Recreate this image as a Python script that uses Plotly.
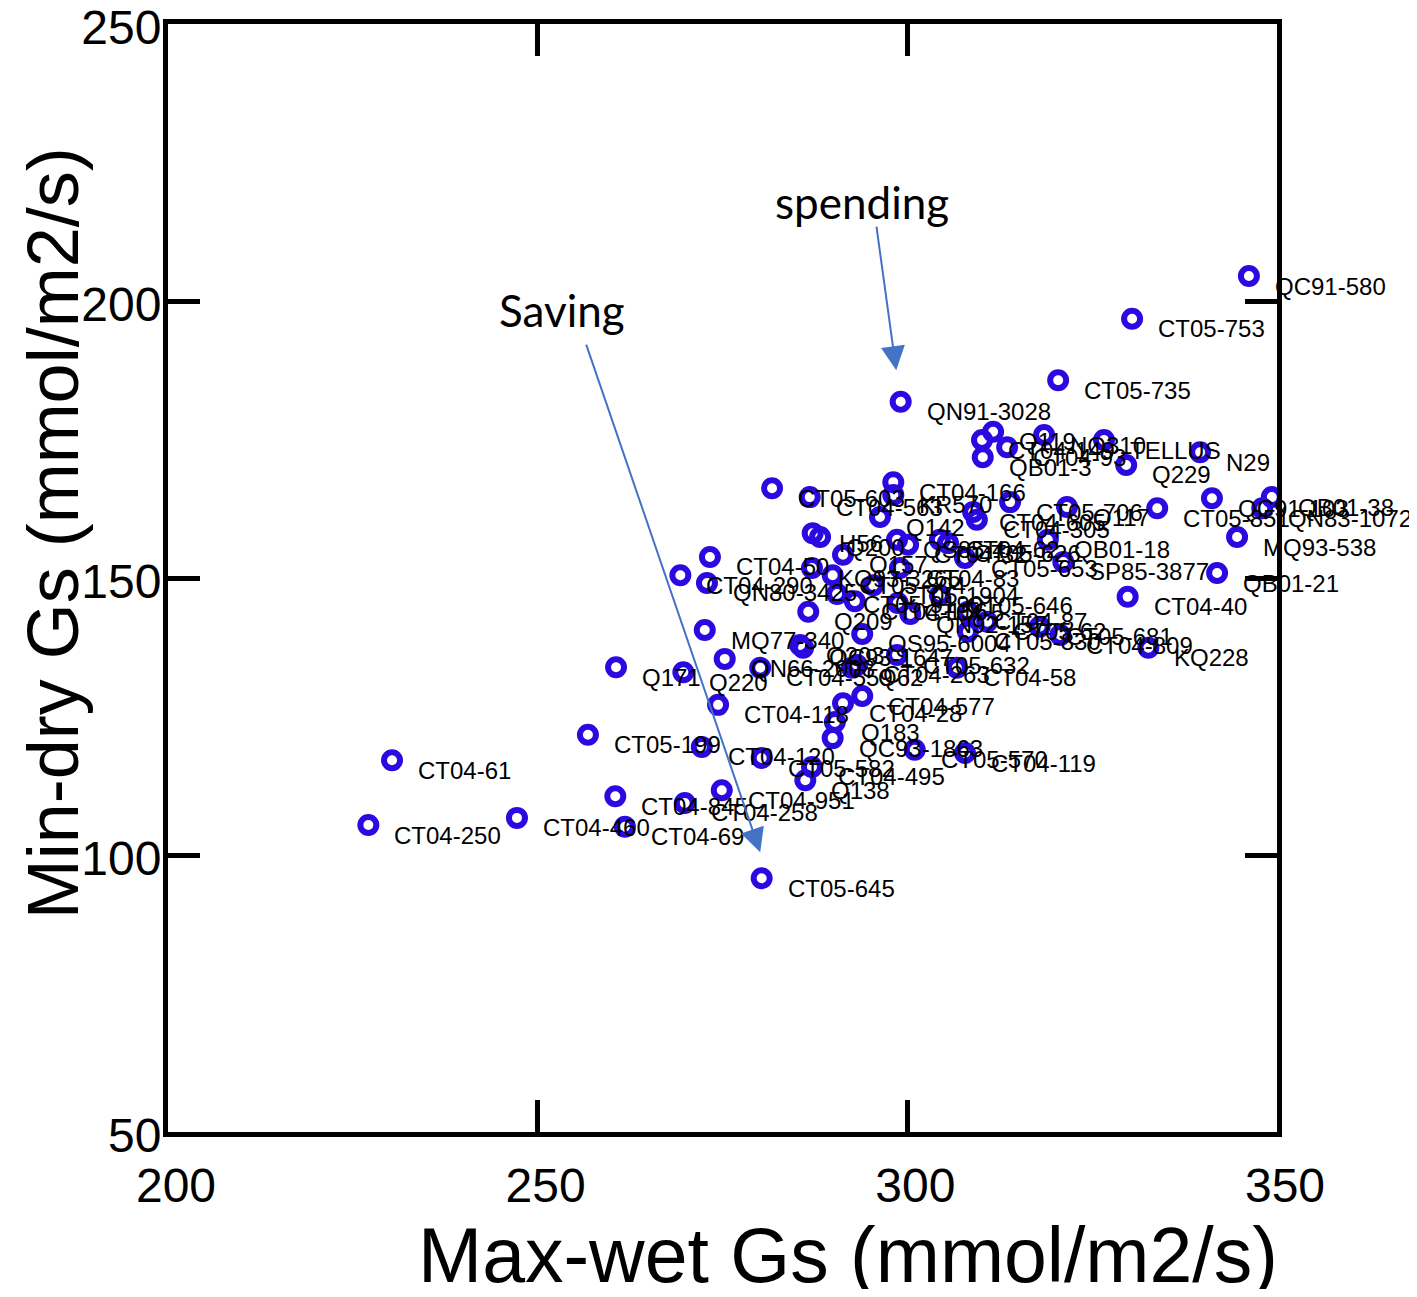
import plotly.graph_objects as go

labels = [
    "QC91-580", "CT05-753", "CT05-735", "QN91-3028", "CT04-149", "Q119", "CT04-93", "QB01-3",
    "NO310", "TELLUS", "Q229", "N29", "QC91-103", "QN83-1072", "QB01-38", "CT05-851",
    "MQ93-538", "QB01-21", "CT04-40", "Q117", "CT05-706", "QB01-18", "SP85-3877", "CT04-605",
    "CT04-305", "CT05-603", "CT04-563", "CT04-166", "KR570", "Q142", "H56", "Q200",
    "Q157", "QS85-4", "CT04-32", "CT04-62", "CT05-626", "CT05-653", "CT04-50", "CT04-290",
    "QN80-3425", "KQ93-3265", "CT05-304", "CT05-1904", "CT04-156", "CT04-5", "QN92-157", "CT04-83",
    "CT05-646", "CT04-87", "CT05-62", "CT05-830", "CT05-681", "CT04-809", "KQ228", "QS95-6004",
    "CT05-632", "CT04-58", "Q209", "MQ77-340", "Q203", "QC93-1647", "CT04-263", "Q62",
    "Q171", "Q220", "QN66-2008", "CT04-559", "CT04-118", "CT04-28", "CT04-577", "Q183",
    "QC93-1863", "CT05-199", "CT04-120", "CT05-582", "CT04-495", "Q138", "CT05-570", "CT04-119",
    "CT04-845", "CT04-258", "CT04-951", "CT04-69", "CT05-645", "CT04-460", "CT04-61", "CT04-250",
    "CT05-9190",
]

max_wet = [
    346.2, 330.4, 320.4, 299.1, 310.1, 311.6, 313.5, 310.2,
    318.5, 326.6, 329.6, 339.6, 341.2, 348.0, 349.3, 333.8,
    344.6, 341.9, 329.8, 321.6, 313.9, 319.0, 321.1, 308.9,
    309.4, 281.7, 286.8, 298.1, 298.1, 296.3, 287.2, 288.2,
    291.3, 298.6, 300.1, 304.4, 305.5, 307.8, 273.3, 269.3,
    272.9, 287.1, 289.9, 295.4, 292.9, 298.7, 300.4, 299.0,
    304.4, 308.2, 310.8, 308.2, 317.9, 320.7, 332.6, 293.9,
    298.6, 306.7, 286.6, 272.6, 285.5, 285.9, 293.2, 292.5,
    260.6, 269.7, 275.3, 280.1, 274.4, 291.3, 293.9, 290.2,
    289.9, 256.8, 272.2, 280.3, 287.1, 286.2, 301.0, 307.8,
    260.5, 269.9, 274.9, 261.8, 280.3, 247.2, 230.3, 227.1,
    290.5,
]

min_dry = [
    204.5, 196.8, 185.7, 181.8, 174.9, 176.4, 173.6, 171.8,
    175.8, 174.9, 170.4, 172.7, 164.4, 162.6, 164.6, 162.6,
    157.4, 150.9, 146.6, 162.8, 163.7, 156.9, 152.9, 161.9,
    160.5, 166.2, 164.6, 167.3, 165.0, 161.0, 158.1, 157.4,
    154.2, 156.9, 156.0, 156.9, 156.3, 153.6, 153.8, 150.5,
    149.1, 151.8, 150.5, 148.7, 145.8, 145.5, 143.5, 151.8,
    146.9, 143.9, 142.1, 140.3, 141.2, 139.7, 137.4, 139.9,
    136.1, 133.8, 143.9, 140.6, 137.9, 137.4, 134.3, 133.8,
    133.9, 133.0, 135.4, 133.8, 127.1, 127.4, 128.7, 124.0,
    121.1, 121.7, 119.5, 117.5, 115.9, 113.5, 119.0, 118.4,
    110.6, 109.4, 111.7, 105.1, 95.8, 106.7, 117.1, 105.4,
    147.1,
]

x_ticks = [200, 250, 300, 350]
y_ticks = [50, 100, 150, 200, 250]

MARK = "#2a0ae0"
ARROW = "#4472C4"
FONT = "Liberation Sans, Arial, sans-serif"

fig = go.Figure()
fig.add_trace(go.Scatter(
    x=max_wet, y=min_dry, mode="markers",
    marker=dict(symbol="circle-open", size=16, color=MARK, line=dict(width=6, color=MARK)),
    hoverinfo="text", text=labels, showlegend=False,
))

annotations = []
for lab, xv, yv in zip(labels, max_wet, min_dry):
    annotations.append(dict(
        x=xv, y=yv, xref="x", yref="y", text=lab, showarrow=False,
        xanchor="left", yanchor="middle", xshift=24, yshift=-10,
        font=dict(family=FONT, size=24, color="black"),
    ))

# arrows
annotations.append(dict(x=298.5, y=187.5, ax=295.8, ay=213.7, xref="x", yref="y",
                        axref="x", ayref="y", showarrow=True, arrowhead=2, arrowsize=2.4,
                        arrowwidth=2, arrowcolor=ARROW, text=""))
annotations.append(dict(x=280.1, y=100.5, ax=256.5, ay=192.4, xref="x", yref="y",
                        axref="x", ayref="y", showarrow=True, arrowhead=2, arrowsize=2.4,
                        arrowwidth=2, arrowcolor=ARROW, text=""))
annotations.append(dict(x=293.9, y=217.9, xref="x", yref="y", text="spending", showarrow=False,
                        xanchor="center", yanchor="middle",
                        font=dict(family="Lato, sans-serif", size=44, color="black")))
annotations.append(dict(x=253.3, y=198.4, xref="x", yref="y", text="Saving", showarrow=False,
                        xanchor="center", yanchor="middle",
                        font=dict(family="Lato, sans-serif", size=44, color="black")))

# axis titles
annotations.append(dict(x=0.613, y=-0.111, xref="paper", yref="paper",
                        text="Max-wet Gs (mmol/m2/s)", showarrow=False,
                        xanchor="center", yanchor="middle",
                        font=dict(family=FONT, size=77, color="black")))
annotations.append(dict(x=-0.104, y=0.54, xref="paper", yref="paper",
                        text="Min-dry Gs (mmol/m2/s)", showarrow=False, textangle=-90,
                        xanchor="center", yanchor="middle",
                        font=dict(family=FONT, size=72, color="black")))

axis_common = dict(
    showgrid=False, zeroline=False, showline=True, linewidth=5, linecolor="black",
    mirror="ticks", ticks="inside", ticklen=32, tickwidth=5, tickcolor="black",
    tickfont=dict(family=FONT, size=48, color="black"), automargin=False,
    ticklabeloverflow="allow",
)

# page body has an 8px margin, so the figure is drawn slightly smaller
fig.update_layout(
    width=1401, height=1281,
    margin=dict(l=160, r=132, t=16, b=157),
    paper_bgcolor="white", plot_bgcolor="white",
    xaxis=dict(range=[200, 350], tickvals=x_ticks, ticklabelstandoff=7, ticklabelshift=8, **axis_common),
    yaxis=dict(range=[50, 250], tickvals=y_ticks, ticklabelstandoff=-8, ticklabelshift=3, **axis_common),
    annotations=annotations,
    showlegend=False,
)

fig.write_html("out.html")
